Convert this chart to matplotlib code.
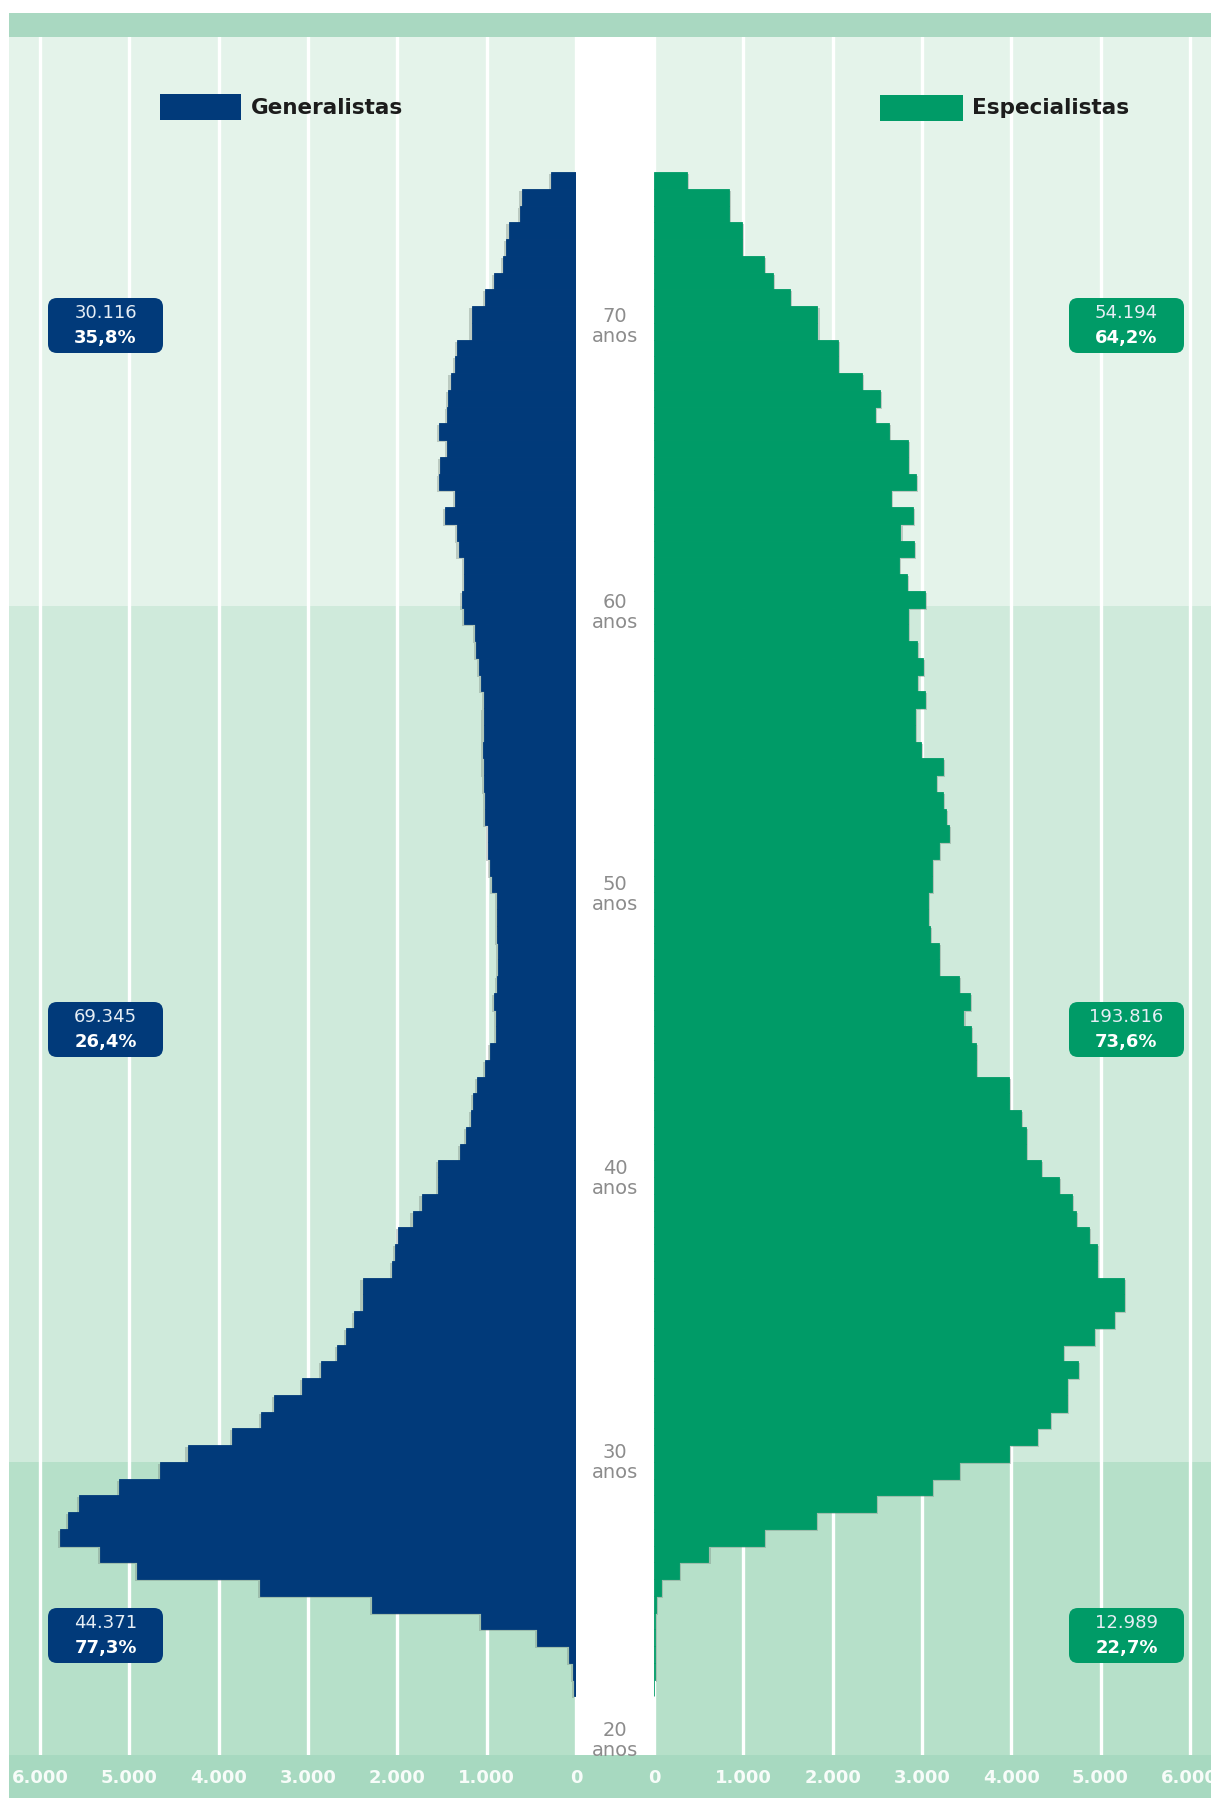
import matplotlib
matplotlib.use("Agg")
import matplotlib.pyplot as plt
import matplotlib.patheffects as pe
from matplotlib.patches import Rectangle, FancyBboxPatch
import numpy as np

# ---------------- data (top bar = oldest, bottom bar = youngest) ----------------
generalistas = [280, 610, 630, 755, 785, 820, 920, 1015, 1170, 1170,
                1335, 1355, 1405, 1430, 1440, 1535, 1440, 1520, 1530, 1355,
                1470, 1335, 1315, 1250, 1250, 1275, 1250, 1130, 1115, 1085,
                1065, 1030, 1035, 1035, 1045, 1035, 1025, 1015, 1015, 990,
                990, 965, 940, 880, 880, 880, 870, 870, 880, 920,
                900, 900, 960, 1015, 1105, 1155, 1180, 1230, 1295, 1540,
                1540, 1730, 1830, 1990, 2030, 2060, 2390, 2390, 2490, 2575,
                2680, 2850, 3070, 3380, 3525, 3855, 4350, 4660, 5115, 5560,
                5690, 5780, 5325, 4915, 3540, 2280, 1065, 440, 75, 33, 20]

especialistas = [370, 840, 840, 985, 985, 1230, 1335, 1520, 1830, 1830,
                 2060, 2060, 2325, 2535, 2470, 2635, 2845, 2845, 2935, 2655,
                 2905, 2760, 2915, 2740, 2835, 3030, 2845, 2845, 2945, 3010,
                 2945, 3030, 2925, 2925, 2990, 3235, 3155, 3240, 3270, 3305,
                 3195, 3110, 3110, 3070, 3070, 3090, 3195, 3195, 3420, 3535,
                 3465, 3545, 3605, 3605, 3980, 3980, 4105, 4165, 4165, 4330,
                 4535, 4680, 4725, 4870, 4960, 4960, 5260, 5260, 5155, 4930,
                 4580, 4750, 4620, 4620, 4435, 4290, 3980, 3420, 3110, 2490,
                 1810, 1230, 610, 280, 75, 25, 12, 8, 12, 15, 0]

series_names = ["Generalistas", "Especialistas"]
x_ticks = [0, 1000, 2000, 3000, 4000, 5000, 6000]
x_tick_labels = ["0", "1.000", "2.000", "3.000", "4.000", "5.000", "6.000"]
age_labels = ["70", "60", "50", "40", "30", "20"]
gen_totals = ["30.116", "69.345", "44.371"]
gen_shares = ["35,8%", "26,4%", "77,3%"]
esp_totals = ["54.194", "193.816", "12.989"]
esp_shares = ["64,2%", "73,6%", "22,7%"]

# ---------------- style ----------------
W, H, DPI = 1211, 1798, 100
BLUE = "#013a7a"
GREEN = "#009b67"
C_HEAD = "#a9d8c1"
C_TOP = "#e4f3ea"
C_MID = "#cfeadb"
C_BOT = "#b6e0c9"
C_AXIS = "#a7d9c0"
C_AGE = "#8c8c8c"

fig = plt.figure(figsize=(W / DPI, H / DPI), dpi=DPI)
fig.patch.set_facecolor("white")

def px_axes(z):
    a = fig.add_axes([0, 0, 1, 1], zorder=z)
    a.set_xlim(0, W)
    a.set_ylim(H, 0)
    a.axis("off")
    a.patch.set_alpha(0)
    return a

X0_L, X0_R, PX_PER_K = 576, 654, 89.3
Y_TOP, Y_BOT, BAR_TOP, BAR_H = 37, 1755, 172, 16.75

bg = px_axes(0)
# header band and background sections
bg.add_patch(Rectangle((9, 13), W - 9, Y_TOP - 13, color=C_HEAD, lw=0))
bg.add_patch(Rectangle((9, Y_TOP), W - 9, 606 - Y_TOP, color=C_TOP, lw=0))
bg.add_patch(Rectangle((9, 606), W - 9, 1462 - 606, color=C_MID, lw=0))
bg.add_patch(Rectangle((9, 1462), W - 9, Y_BOT - 1462, color=C_BOT, lw=0))
bg.add_patch(Rectangle((9, Y_BOT), W - 9, H - Y_BOT, color=C_AXIS, lw=0))
# central white strip
bg.add_patch(Rectangle((X0_L, Y_TOP), X0_R - X0_L, Y_BOT - Y_TOP, color="white", lw=0))

# ---------------- data axes ----------------
n = len(generalistas)
ypos = np.arange(n)
ylim = ((Y_BOT - BAR_TOP) / BAR_H - 0.5, (Y_TOP - BAR_TOP) / BAR_H - 0.5)

axL = fig.add_axes([9 / W, 1 - Y_BOT / H, (X0_L - 9) / W, (Y_BOT - Y_TOP) / H], zorder=1)
axR = fig.add_axes([X0_R / W, 1 - Y_BOT / H, (W - X0_R) / W, (Y_BOT - Y_TOP) / H], zorder=1)
axL.set_xlim((X0_L - 9) / PX_PER_K * 1000, 0)
axR.set_xlim(0, (W - X0_R) / PX_PER_K * 1000)

for ax, vals, col, off in ((axL, generalistas, BLUE, (-1.5, -1.5)),
                           (axR, especialistas, GREEN, (1.5, -1.5))):
    ax.set_ylim(*ylim)
    ax.patch.set_alpha(0)
    for s in ax.spines.values():
        s.set_visible(False)
    bars = ax.barh(ypos, vals, height=1.0, color=col, edgecolor=col, linewidth=0.6)
    for b in bars:
        b.set_path_effects([pe.SimplePatchShadow(offset=off, shadow_rgbFace="#6f7f76", alpha=0.35),
                            pe.Normal()])
    ax.set_xticks(x_ticks)
    ax.set_xticklabels(x_tick_labels)
    ax.set_yticks([])
    ax.grid(axis="x", color="white", linewidth=2.4)
    ax.set_axisbelow(True)
    ax.tick_params(axis="x", length=0, pad=10.0, labelcolor="#f7fcf9", labelsize=13)
    for t in ax.get_xticklabels():
        t.set_fontweight("bold")

# ---------------- annotations ----------------
top = px_axes(3)

# legend
top.add_patch(Rectangle((160, 94), 81, 26, color=BLUE, lw=0))
top.text(251, 108, series_names[0], fontsize=15.5, fontweight="bold", color="#1c1c1c",
         ha="left", va="center")
top.add_patch(Rectangle((880, 95), 83, 26, color=GREEN, lw=0))
top.text(972, 108, series_names[1], fontsize=15.5, fontweight="bold", color="#1c1c1c",
         ha="left", va="center")

# group boxes
box_tops = [298, 1002, 1608]
for i, yt in enumerate(box_tops):
    for x0, w, col, tot, sh in ((48, 115, BLUE, gen_totals[i], gen_shares[i]),
                                (1069, 115, GREEN, esp_totals[i], esp_shares[i])):
        top.add_patch(FancyBboxPatch((x0, yt), w, 55, boxstyle="round,pad=0,rounding_size=9",
                                     facecolor=col, edgecolor="none"))
        top.text(x0 + w / 2, yt + 15, tot, fontsize=13, color="#e6eef5", ha="center", va="center")
        top.text(x0 + w / 2, yt + 40, sh, fontsize=13, fontweight="bold", color="white",
                 ha="center", va="center")

# age labels in the central strip
age_y = [317, 602, 885, 1168, 1452, 1730]
for lab, yy in zip(age_labels, age_y):
    top.text(615, yy, lab, fontsize=14, color=C_AGE, ha="center", va="center")
    top.text(615, yy + 20, "anos", fontsize=14, color=C_AGE, ha="center", va="center")

fig.savefig("out.png", dpi=DPI, facecolor="white")
